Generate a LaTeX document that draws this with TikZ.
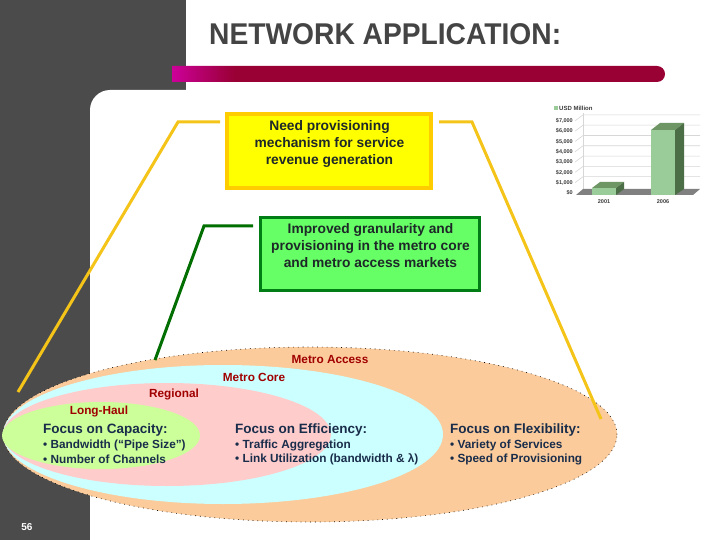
\documentclass[tikz,border=0pt]{standalone}
\usepackage{fontspec}
\setmainfont{Liberation Sans}
\newfontfamily\titlefont[FakeStretch=0.94]{Liberation Sans}
\usetikzlibrary{calc}
\definecolor{band}{RGB}{75,75,75}
\definecolor{titlegray}{RGB}{68,68,68}
\definecolor{barmag}{RGB}{204,0,153}
\definecolor{barcrim}{RGB}{153,0,51}
\definecolor{yfill}{RGB}{255,255,0}
\definecolor{yborder}{RGB}{255,204,0}
\definecolor{yline}{RGB}{245,196,25}
\definecolor{gfill}{RGB}{102,255,102}
\definecolor{gborder}{RGB}{0,125,20}
\definecolor{gline}{RGB}{0,110,0}
\definecolor{boxtext}{RGB}{30,40,40}
\definecolor{eorange}{RGB}{251,203,155}
\definecolor{ecyan}{RGB}{204,255,255}
\definecolor{epink}{RGB}{255,204,204}
\definecolor{egreen}{RGB}{204,255,153}
\definecolor{labred}{RGB}{160,0,0}
\definecolor{navy}{RGB}{25,45,75}
\definecolor{barfront}{RGB}{153,204,153}
\definecolor{bartop}{RGB}{110,150,100}
\definecolor{barside}{RGB}{75,110,70}
\definecolor{floorgray}{RGB}{128,128,128}
\definecolor{gridgray}{RGB}{215,215,215}
\definecolor{charttext}{RGB}{60,60,60}
\pgfdeclarehorizontalshading{barshade}{100bp}{color(0bp)=(barmag); color(25bp)=(barmag); color(31.4bp)=(barcrim); color(100bp)=(barcrim)}
\tikzset{
  ybox/.style={draw=yborder, fill=yfill, line width=4pt, minimum width=204pt, minimum height=74pt, inner sep=0pt},
  gbox/.style={draw=gborder, fill=gfill, line width=3pt, minimum width=219pt, minimum height=73pt, inner sep=0pt},
  boxtxt/.style={align=center, text=boxtext, inner sep=0pt, font=\fontsize{13.8}{17}\selectfont\bfseries},
  yconn/.style={draw=yline, line width=3pt},
  gconn/.style={draw=gline, line width=3pt},
  ellabel/.style={font=\fontsize{11.8}{13}\selectfont\bfseries, text=labred, inner sep=0pt},
  focus/.style={font=\fontsize{13.5}{15}\selectfont\bfseries, text=navy, anchor=west, inner sep=0pt},
  bul/.style={font=\fontsize{11.8}{13}\selectfont\bfseries, text=navy, anchor=west, inner sep=0pt},
  ylab/.style={font=\fontsize{5.5}{6}\selectfont\bfseries, text=charttext, anchor=east, inner sep=0pt},
  gridl/.style={draw=gridgray, line width=0.6pt}
}
\begin{document}
\begin{tikzpicture}[x=1pt,y=-1pt]
\useasboundingbox (0,0) rectangle (720,540);
\clip (0,0) rectangle (720,540);
% background frame
\fill[white] (0,0) rectangle (720,540);
\fill[band] (0,0) rectangle (186,110);
\fill[band] (0,0) rectangle (90,540);
\fill[white, rounded corners=20pt] (90,90) rectangle (760,580);
% title and bar
\node[anchor=west, font=\titlefont\fontsize{30}{32}\selectfont\bfseries, text=titlegray, inner sep=0pt] (title) at (209,34) {NETWORK APPLICATION:};
\shade[shading=barshade] (172,66) -- (657,66) arc[start angle=90, end angle=-90, radius=8pt] -- (172,82) -- cycle;
% chart
\fill[barfront] (554,106) rectangle (558,110);
\node[anchor=west, font=\fontsize{6}{7}\selectfont\bfseries, text=charttext, inner sep=0pt] (leg) at (559,108) {USD Million};
\draw[gridl] (583,113) -- (583,189);
\foreach \k in {1,...,7} {
  \draw[gridl] (575,{193-10.3*\k}) -- (583,{187-10.3*\k}) -- (700,{187-10.3*\k});
}
\foreach \lab [count=\k from 0] in {{\$0},{\$1,000},{\$2,000},{\$3,000},{\$4,000},{\$5,000},{\$6,000},{\$7,000}} {
  \node[ylab] (yl\k) at (573,{193-10.3*\k}) {\lab};
}
\fill[floorgray] (576,195) -- (693,195) -- (700,189) -- (583,189) -- cycle;
% bar 2001
\fill[barfront] (592,188) rectangle (616,195);
\fill[bartop] (592,188) -- (616,188) -- (624,182) -- (600,182) -- cycle;
\fill[barside] (616,188) -- (624,182) -- (624,189) -- (616,195) -- cycle;
% bar 2006
\fill[barfront] (651,130) rectangle (675,195);
\fill[bartop] (651,130) -- (675,130) -- (684,123) -- (660,123) -- cycle;
\fill[barside] (675,130) -- (684,123) -- (684,189) -- (675,195) -- cycle;
\node[font=\fontsize{5.5}{6}\selectfont\bfseries, text=charttext, inner sep=0pt] (c1) at (604,202) {2001};
\node[font=\fontsize{5.5}{6}\selectfont\bfseries, text=charttext, inner sep=0pt] (c2) at (663,202) {2006};
% ellipses
\fill[eorange] (310,434.5) ellipse [x radius=307pt, y radius=87.5pt];
\draw[black, line width=0.6pt, dash pattern=on 0.8pt off 4pt] (310,434.5) ellipse [x radius=307pt, y radius=87.5pt];
\fill[ecyan] (223,434.5) ellipse [x radius=220pt, y radius=69.5pt];
\fill[epink] (167,434.5) ellipse [x radius=164pt, y radius=51.5pt];
\fill[egreen] (101,435.5) ellipse [x radius=99pt, y radius=33.5pt];
% ellipse labels
\node[ellabel] (ma) at (330,359) {Metro Access};
\node[ellabel] (mc) at (254,377) {Metro Core};
\node[ellabel] (rg) at (174,394) {Regional};
\node[ellabel] (lh) at (99,411) {Long-Haul};
% focus texts
\node[focus] (f1) at (43,430) {Focus on Capacity:};
\node[bul] (f1a) at (43,445) {• Bandwidth (“Pipe Size”)};
\node[bul] (f1b) at (43,459) {• Number of Channels};
\node[focus] (f2) at (235,430) {Focus on Efficiency:};
\node[bul] (f2a) at (235,445) {• Traffic Aggregation};
\node[bul] (f2b) at (235,459) {• Link Utilization (bandwidth \& λ)};
\node[focus] (f3) at (450,430) {Focus on Flexibility:};
\node[bul] (f3a) at (450,445) {• Variety of Services};
\node[bul] (f3b) at (450,459) {• Speed of Provisioning};
% boxes
\node[ybox] (ybox) at (329,151) {};
\node[boxtxt] (ytxt) at (329.5,143.5) {Need provisioning\\mechanism for service\\revenue generation};
\node[gbox] (gbox) at (370,254) {};
\node[boxtxt] (gtxt) at (370.5,245.5) {Improved granularity and\\provisioning in the metro core\\and metro access markets};
% connectors
\coordinate (yl1) at (178,122);
\coordinate (yl2) at (18,392);
\coordinate (yr1) at (472,122);
\coordinate (yr2) at (601,419);
\coordinate (gl1) at (204,226);
\coordinate (gl2) at (155,360);
\draw[yconn] ($(ybox.north west)+(-5,10)$) -- (yl1) -- (yl2);
\draw[yconn] ($(ybox.north east)+(6,10)$) -- (yr1) -- (yr2);
\draw[gconn] ($(gbox.north west)+(-6,10)$) -- (gl1) -- (gl2);
% page number
\node[text=white, font=\fontsize{10}{11}\selectfont\bfseries, inner sep=0pt] (pg) at (27,527) {56};
\end{tikzpicture}
\end{document}
